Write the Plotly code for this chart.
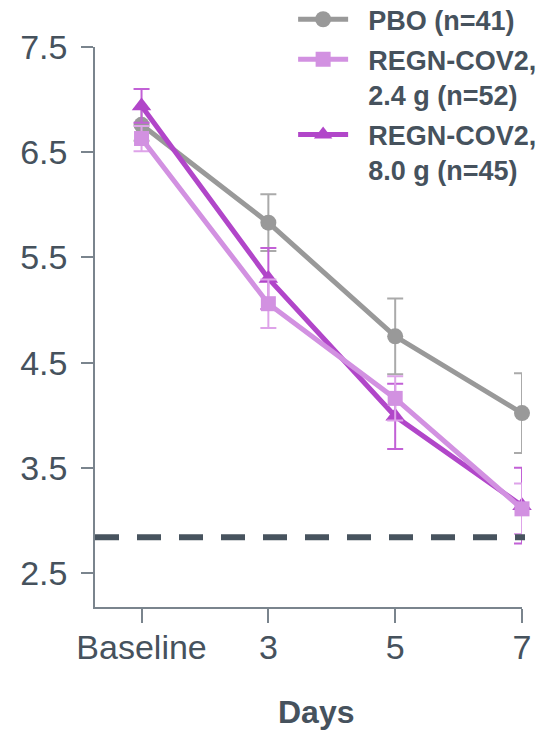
import plotly.graph_objects as go

days = ["Baseline", "3", "5", "7"]
x_pos = [0, 1, 2, 3]

pbo_mean = [6.76, 5.83, 4.75, 4.02]
pbo_err = [0.15, 0.27, 0.36, 0.38]
low_mean = [6.63, 5.06, 4.16, 3.11]
low_err = [0.12, 0.23, 0.21, 0.24]
high_mean = [6.94, 5.30, 3.99, 3.14]
high_err = [0.16, 0.29, 0.31, 0.36]
reference_level = 2.84

names = ["PBO (n=41)", "REGN-COV2,<br>2.4 g (n=52)", "REGN-COV2,<br>8.0 g (n=45)"]
y_ticks = [2.5, 3.5, 4.5, 5.5, 6.5, 7.5]

TEXT = "#46525d"
AXIS = "#7a848d"
GRAY = "#999999"
LIGHT = "#d291e1"
PURPLE = "#b146c9"
FONT = "Liberation Sans, Arial, sans-serif"
PAD = "\u200b\u00a0\u00a0"

fig = go.Figure()

def add_series(y, err, name, color, ecolor, symbol, size, rank):
    label = "<br>".join(PAD + part for part in name.split("<br>"))
    fig.add_trace(go.Scatter(
        x=x_pos, y=y, name=label, mode="lines+markers",
        line=dict(color=color, width=5),
        marker=dict(color=color, symbol=symbol, size=size),
        error_y=dict(type="data", array=err, visible=True, color=ecolor,
                     thickness=2, width=8),
        legendrank=rank, legendgroup=str(rank), cliponaxis=False,
    ))

add_series(pbo_mean, pbo_err, names[0], GRAY, "#aaaaaa", "circle", 16, 1)
add_series(high_mean, high_err, names[2], PURPLE, "#c261d6", "triangle-up", 17, 3)
add_series(low_mean, low_err, names[1], LIGHT, "#dea3e9", "square", 15, 2)

fig.add_shape(type="line", xref="paper", yref="y", x0=0, x1=1.007,
              y0=reference_level, y1=reference_level,
              line=dict(color="#47535e", width=6, dash="24px,18px"))

fig.add_annotation(text="<b>Days</b>", xref="paper", yref="paper",
                   x=0.5176, y=-0.1875, xanchor="center", yanchor="middle",
                   showarrow=False, font=dict(family=FONT, size=32, color=TEXT))

fig.update_layout(
    width=538, height=731,
    margin=dict(l=95, r=16, t=47, b=124, autoexpand=False),
    plot_bgcolor="white", paper_bgcolor="white",
    font=dict(family=FONT, color=TEXT),
    showlegend=True,
    legend=dict(x=0.464, y=1.0925, xanchor="left", yanchor="top",
                font=dict(family=FONT, size=27, color=TEXT, weight="bold"),
                itemwidth=50, valign="top", bgcolor="rgba(0,0,0,0)",
                traceorder="grouped", tracegroupgap=2),
    xaxis=dict(range=[-0.367, 3.0], tickvals=x_pos, ticktext=days,
               showgrid=False, zeroline=False, showline=True,
               linecolor=AXIS, linewidth=1.5, ticks="outside", ticklen=14,
               tickcolor=AXIS, tickwidth=1.5, ticklabelstandoff=-5,
               tickfont=dict(family=FONT, size=34, color=TEXT)),
    yaxis=dict(range=[2.177, 7.5], tickvals=y_ticks,
               ticktext=[f"{v:.1f}" for v in y_ticks],
               showgrid=False, zeroline=False, showline=True,
               linecolor=AXIS, linewidth=1.5, ticks="outside", ticklen=12,
               tickcolor=AXIS, tickwidth=1.5, ticklabelstandoff=7,
               tickfont=dict(family=FONT, size=34, color=TEXT)),
)

fig.write_html("out.html")
